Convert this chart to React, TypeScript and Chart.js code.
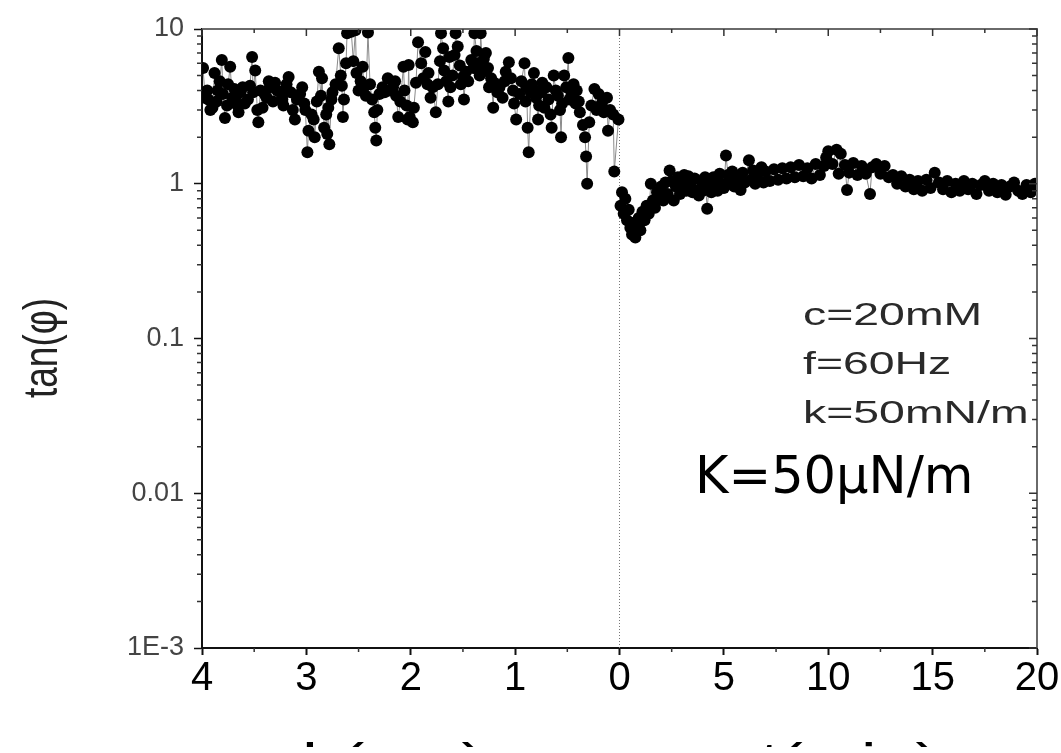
import React, { useEffect, useRef } from 'react';
import { Chart, registerables } from 'chart.js';

Chart.register(...registerables);

// Approach curve: separation h (nm), read from 4 nm down to 0
const hNm = [
  3.99, 3.97, 3.95, 3.94, 3.92, 3.9, 3.88, 3.86, 3.85, 3.83,
  3.81, 3.8, 3.78, 3.76, 3.75, 3.73, 3.71, 3.69, 3.67, 3.66,
  3.65, 3.63, 3.61, 3.59, 3.56, 3.54, 3.52, 3.51, 3.49, 3.47,
  3.46, 3.44, 3.42, 3.4, 3.38, 3.36, 3.35, 3.32, 3.3, 3.28,
  3.25, 3.23, 3.22, 3.19, 3.17, 3.15, 3.13, 3.11, 3.09, 3.06,
  3.04, 3.02, 3.01, 2.99, 2.98, 2.95, 2.93, 2.92, 2.9, 2.88,
  2.86, 2.85, 2.83, 2.81, 2.8, 2.79, 2.78, 2.76, 2.75, 2.72,
  2.69, 2.67, 2.66, 2.65, 2.64, 2.62, 2.61, 2.57, 2.55, 2.53,
  2.52, 2.5, 2.48, 2.46, 2.45, 2.43, 2.41, 2.39, 2.37, 2.35,
  2.34, 2.33, 2.32, 2.3, 2.27, 2.25, 2.22, 2.2, 2.17, 2.15,
  2.14, 2.12, 2.1, 2.07, 2.06, 2.04, 2.03, 2.02, 2.01, 1.98,
  1.97, 1.95, 1.93, 1.9, 1.88, 1.86, 1.84, 1.83, 1.81, 1.79,
  1.76, 1.74, 1.72, 1.71, 1.69, 1.68, 1.66, 1.64, 1.63, 1.62,
  1.6, 1.58, 1.57, 1.55, 1.53, 1.52, 1.5, 1.49, 1.47, 1.45,
  1.42, 1.4, 1.39, 1.37, 1.36, 1.34, 1.33, 1.31, 1.3, 1.28,
  1.26, 1.25, 1.23, 1.21, 1.2, 1.17, 1.15, 1.12, 1.1, 1.09,
  1.06, 1.04, 1.02, 1.01, 0.99, 0.96, 0.94, 0.91, 0.9, 0.89,
  0.88, 0.87, 0.85, 0.84, 0.82, 0.81, 0.8, 0.78, 0.77, 0.75,
  0.74, 0.72, 0.7, 0.68, 0.66, 0.65, 0.63, 0.61, 0.59, 0.57,
  0.56, 0.55, 0.53, 0.51, 0.49, 0.48, 0.46, 0.44, 0.42, 0.41,
  0.39, 0.38, 0.35, 0.33, 0.32, 0.31, 0.29, 0.27, 0.24, 0.22,
  0.2, 0.17, 0.15, 0.12, 0.11, 0.09, 0.06, 0.05, 0.01,
];
const tanPhiApproach = [
  5.6, 3.6, 4.0, 3.5, 3.0, 3.1, 5.2, 3.4, 4.0, 4.6,
  6.3, 3.8, 2.66, 3.2, 4.4, 5.7, 3.6, 4.1, 3.7, 3.2,
  2.9, 3.9, 4.2, 3.3, 3.5, 4.3, 6.6, 3.9, 5.4, 3.0,
  2.5, 4.0, 3.1, 3.8, 3.6, 4.6, 4.2, 3.4, 4.5, 4.0,
  3.9, 3.5, 3.2, 4.4, 4.9, 3.9, 3.0, 2.6, 3.5, 3.8,
  4.2, 3.3, 3.0, 1.6, 2.2, 2.8, 2.6, 2.0, 3.4, 5.3,
  3.7, 4.8, 2.3, 2.8, 2.1, 3.1, 1.8, 3.5, 3.9, 4.4,
  7.5, 5.0, 4.3, 2.7, 3.5, 6.0, 9.4, 9.6, 6.2, 9.8,
  5.2, 4.0, 4.6, 5.7, 4.2, 3.7, 9.5, 4.4, 3.5, 2.9,
  2.3, 1.9, 3.0, 3.8, 4.2, 3.9, 4.8, 4.0, 4.2, 4.6,
  3.7, 2.7, 3.4, 5.7, 4.0, 3.2, 2.6, 5.85, 2.7, 2.5,
  3.1, 4.5, 8.2, 6.0, 4.8, 7.1, 4.4, 5.2, 3.6, 4.2,
  2.9, 4.4, 6.2, 9.4, 7.5, 5.4, 4.6, 3.4, 6.6, 4.2,
  5.0, 6.8, 9.4, 7.7, 5.8, 4.4, 4.9, 3.5, 5.3, 4.6,
  6.3, 5.6, 9.4, 7.2, 6.0, 5.0, 9.4, 5.3, 6.4, 7.0,
  5.6, 4.2, 4.8, 3.1, 4.5, 3.9, 4.2, 3.6, 4.6, 5.3,
  6.1, 4.8, 4.0, 3.3, 2.6, 3.8, 4.6, 6.0, 3.4, 4.2,
  2.3, 1.6, 3.9, 4.4, 5.2, 4.0, 3.6, 2.6, 3.2, 3.9,
  4.5, 3.1, 4.2, 3.5, 2.8, 2.3, 5.0, 4.0, 3.7, 3.0,
  2.0, 3.3, 5.0, 4.2, 6.5, 3.5, 3.8, 4.4, 3.3, 4.0,
  3.4, 2.9, 2.4, 2.0, 1.5, 1.0, 2.5, 3.2, 4.1, 3.0,
  3.8, 3.3, 2.9, 3.6, 2.2, 3.0, 2.8, 1.2, 2.6,
];

// Time evolution after contact: t (min)
const tMin = [
  0.05, 0.12, 0.2, 0.28, 0.36, 0.44, 0.52, 0.6, 0.68, 0.76, 0.84, 0.92, 1.0, 1.1, 1.2, 1.3, 1.4, 1.5, 1.6, 1.7,
  1.8, 1.9, 2.0, 2.1, 2.2, 2.3, 2.4, 2.5, 2.6, 2.7, 2.8, 2.9, 3.0, 3.1, 3.2, 3.3, 3.4, 3.5, 3.6, 3.7,
  3.8, 3.9, 4.0, 4.1, 4.2, 4.3, 4.4, 4.5, 4.6, 4.7, 4.8, 4.9, 5.0, 5.1, 5.2, 5.3, 5.4, 5.5, 5.6, 5.7,
  5.8, 5.9, 6.0, 6.2, 6.3, 6.4, 6.5, 6.6, 6.8, 6.9, 7.0, 7.2, 7.4, 7.6, 7.8, 8.0, 8.2, 8.4, 8.6, 8.8,
  9.0, 9.2, 9.4, 9.6, 9.8, 9.9, 10.0, 10.2, 10.4, 10.5, 10.6, 10.8, 10.9, 11.0, 11.2, 11.4, 11.6, 11.8, 12.0, 12.1,
  12.3, 12.5, 12.7, 12.9, 13.1, 13.3, 13.5, 13.7, 13.9, 14.1, 14.3, 14.5, 14.7, 14.9, 15.1, 15.3, 15.5, 15.7, 15.9, 16.1,
  16.3, 16.5, 16.7, 16.9, 17.1, 17.3, 17.5, 17.7, 17.9, 18.1, 18.3, 18.5, 18.7, 18.9, 19.1, 19.3, 19.5, 19.7, 19.9, 20.0,
];
const tanPhiTime = [
  0.72, 0.88, 0.64, 0.8, 0.58, 0.68, 0.52, 0.47, 0.56, 0.45, 0.52, 0.6, 0.5, 0.66, 0.58, 0.72, 0.64, 1.0, 0.78, 0.7,
  0.88, 0.8, 0.96, 0.78, 1.02, 0.86, 1.22, 1.04, 0.78, 0.96, 1.1, 0.86, 1.0, 1.14, 0.9, 1.12, 0.96, 0.88, 1.08, 0.9,
  0.84, 1.04, 0.9, 1.1, 0.69, 1.0, 0.88, 1.1, 0.96, 0.9, 1.16, 1.0, 0.94, 1.52, 1.14, 1.0, 1.2, 0.96, 1.12, 0.98,
  0.91, 1.18, 1.02, 1.42, 1.06, 1.22, 1.0, 1.14, 1.28, 1.02, 1.2, 1.04, 1.24, 1.06, 1.26, 1.08, 1.28, 1.1, 1.32, 1.12,
  1.26, 1.08, 1.34, 1.14, 1.3, 1.48, 1.62, 1.34, 1.66, 1.16, 1.56, 1.32, 0.91, 1.18, 1.36, 1.14, 1.3, 1.16, 0.86, 1.28,
  1.34, 1.16, 1.3, 1.1, 1.14, 1.0, 1.12, 0.96, 1.06, 0.92, 1.04, 0.9, 1.06, 0.94, 1.18, 1.02, 0.92, 1.04, 0.88, 1.0,
  0.9, 1.04, 0.92, 1.0, 0.86, 0.98, 1.04, 0.9, 1.0, 0.88, 0.98, 0.85, 0.96, 1.02, 0.9, 0.86, 0.98, 0.88, 1.0, 0.92,
];

// Split x axis: 1 nm on the left part takes the same length as 5 min on the right part
const NM_SCALE = 5;
const xTickValues = [-20, -15, -10, -5, 0, 5, 10, 15, 20];
const xTickLabels = ['4', '3', '2', '1', '0', '5', '10', '15', '20'];
const xMinorValues = [-17.5, -12.5, -7.5, -2.5, 2.5, 7.5, 12.5, 17.5];
const yTickValues = [0.001, 0.01, 0.1, 1, 10];
const yTickLabels = ['1E-3', '0.01', '0.1', '1', '10'];
const yMinorMultipliers = [2, 3, 4, 5, 6, 7, 8, 9];
const yDecades = [0.001, 0.01, 0.1, 1];

const infoLines = ['c=20mM', 'f=60Hz', 'k=50mN/m'];
const stiffnessLabel = 'K=50\u00b5N/m';
const yTitle = 'tan(\u03c6)';
const xTitleLeft = 'h(nm)';
const xTitleRight = 't(min)';

const decorPlugin = {
  id: 'decor',
  beforeDatasetsDraw(chart: any) {
    const { ctx, chartArea, scales } = chart;
    const x0 = scales.x.getPixelForValue(0);
    ctx.save();
    ctx.strokeStyle = '#777';
    ctx.lineWidth = 1;
    ctx.setLineDash([1, 2]);
    ctx.beginPath();
    ctx.moveTo(x0, chartArea.top);
    ctx.lineTo(x0, chartArea.bottom);
    ctx.stroke();
    ctx.restore();
  },
  afterDraw(chart: any) {
    const { ctx, chartArea, scales } = chart;
    const { left, right, top, bottom } = chartArea;
    ctx.save();
    // top & right frame
    ctx.strokeStyle = '#6a6a6a';
    ctx.lineWidth = 2;
    ctx.beginPath();
    ctx.moveTo(left, top);
    ctx.lineTo(right, top);
    ctx.lineTo(right, bottom);
    ctx.stroke();

    ctx.strokeStyle = '#333';
    ctx.lineWidth = 1.5;
    ctx.beginPath();
    for (const v of xMinorValues) {
      const px = scales.x.getPixelForValue(v);
      ctx.moveTo(px, bottom);
      ctx.lineTo(px, bottom + 4);
      ctx.moveTo(px, top);
      ctx.lineTo(px, top + 4);
    }
    for (const v of xTickValues) {
      const px = scales.x.getPixelForValue(v);
      ctx.moveTo(px, top);
      ctx.lineTo(px, top + 7);
    }
    for (const d of yDecades) {
      for (const m of yMinorMultipliers) {
        const py = scales.y.getPixelForValue(d * m);
        ctx.moveTo(left - 5, py);
        ctx.lineTo(left, py);
        ctx.moveTo(right, py);
        ctx.lineTo(right - 5, py);
      }
    }
    for (const v of yTickValues) {
      const py = scales.y.getPixelForValue(v);
      ctx.moveTo(right, py);
      ctx.lineTo(right - 8, py);
    }
    ctx.stroke();

    // parameter annotations (horizontally stretched like the source)
    ctx.fillStyle = '#2a2a2a';
    ctx.font = '32px "Liberation Sans", Arial, sans-serif';
    ctx.textAlign = 'left';
    ctx.textBaseline = 'alphabetic';
    const baselines = [325, 374, 423];
    infoLines.forEach((txt, i) => {
      ctx.save();
      ctx.translate(803, baselines[i]);
      ctx.scale(1.45, 1);
      ctx.fillText(txt, 0, 0);
      ctx.restore();
    });

    ctx.fillStyle = '#000';
    ctx.font = '51px "DejaVu Sans", sans-serif';
    ctx.fillText(stiffnessLabel, 695, 493);

    // y title
    ctx.save();
    ctx.fillStyle = '#222';
    ctx.font = '37px "Liberation Sans", Arial, sans-serif';
    ctx.textAlign = 'center';
    ctx.translate(57, 348);
    ctx.rotate(-Math.PI / 2);
    ctx.scale(1, 1.3);
    ctx.fillText(yTitle, 0, 0);
    ctx.restore();

    // x titles, cut off by the bottom edge of the picture
    ctx.save();
    ctx.beginPath();
    ctx.rect(0, 0, chart.width, 747);
    ctx.clip();
    ctx.fillStyle = '#000';
    ctx.font = '50px "Liberation Sans", Arial, sans-serif';
    ctx.textAlign = 'left';
    ctx.save();
    ctx.translate(302, 778);
    ctx.scale(1.4, 1);
    ctx.fillText(xTitleLeft, 0, 0);
    ctx.restore();
    ctx.save();
    ctx.translate(760, 778);
    ctx.scale(1.4, 1);
    ctx.fillText(xTitleRight, 0, 0);
    ctx.restore();
    ctx.restore();

    ctx.restore();
  },
};

export default function App() {
  const canvasRef = useRef<HTMLCanvasElement | null>(null);

  useEffect(() => {
    const canvas = canvasRef.current;
    if (!canvas) return;
    const approach = hNm.map((h, i) => ({ x: -h * NM_SCALE, y: tanPhiApproach[i] }));
    const timeSeries = tMin.map((t, i) => ({ x: t, y: tanPhiTime[i] }));
    const pointStyle = {
      showLine: true,
      borderColor: '#8a8a8a',
      borderWidth: 1,
      pointRadius: 6,
      pointBackgroundColor: '#000',
      pointBorderColor: '#000',
      pointBorderWidth: 0,
    };
    const chart = new Chart(canvas, {
      type: 'scatter',
      data: {
        datasets: [
          { label: 'approach', data: approach, ...pointStyle },
          { label: 'time', data: timeSeries, ...pointStyle },
        ],
      },
      options: {
        responsive: false,
        animation: false,
        devicePixelRatio: 1,
        layout: { padding: { top: 29, right: 24, left: 0, bottom: 0 } },
        plugins: { legend: { display: false }, tooltip: { enabled: false } },
        scales: {
          x: {
            type: 'linear',
            min: -20,
            max: 20,
            afterBuildTicks: (scale: any) => {
              scale.ticks = xTickValues.map((v) => ({ value: v }));
            },
            afterFit: (scale: any) => {
              scale.height = 100;
            },
            ticks: {
              autoSkip: false,
              maxRotation: 0,
              padding: 0,
              color: '#000',
              font: { family: '"Liberation Sans", Arial, sans-serif', size: 40 },
              callback: (value: any) => {
                const i = xTickValues.indexOf(Number(value));
                return i >= 0 ? xTickLabels[i] : '';
              },
            },
            grid: { drawOnChartArea: false, drawTicks: true, tickLength: 7, tickColor: '#111', tickWidth: 2 },
            border: { display: true, color: '#111', width: 2 },
          },
          y: {
            type: 'logarithmic',
            min: 0.001,
            max: 10,
            afterBuildTicks: (scale: any) => {
              scale.ticks = yTickValues.map((v) => ({ value: v, major: true }));
            },
            afterFit: (scale: any) => {
              scale.width = 202;
            },
            ticks: {
              autoSkip: false,
              padding: 10,
              color: '#444',
              font: { family: '"Liberation Sans", Arial, sans-serif', size: 27 },
              callback: (value: any, index: number) => yTickLabels[index] ?? '',
            },
            grid: { drawOnChartArea: false, drawTicks: true, tickLength: 8, tickColor: '#111', tickWidth: 1.5 },
            border: { display: true, color: '#111', width: 2 },
          },
        },
      },
      plugins: [decorPlugin],
    });
    return () => chart.destroy();
  }, []);

  return (
    <div
      style={{
        position: 'fixed',
        left: 0,
        top: 0,
        width: 1061,
        height: 753,
        overflow: 'hidden',
        background: '#fff',
      }}
    >
      <canvas ref={canvasRef} width={1061} height={748} style={{ display: 'block' }} />
    </div>
  );
}
